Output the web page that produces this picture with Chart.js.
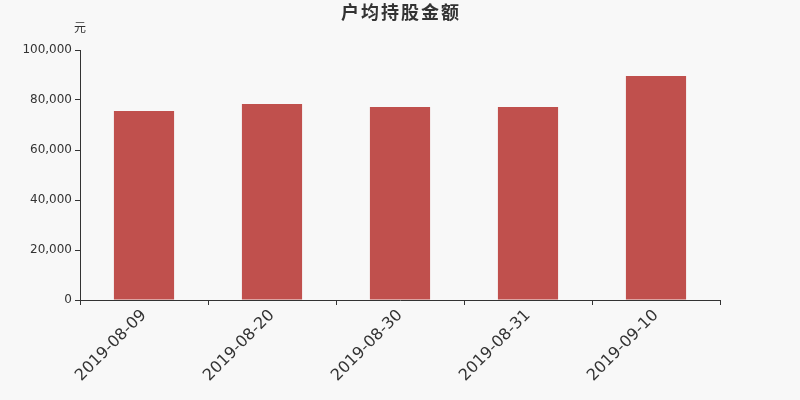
<!DOCTYPE html>
<html>
<head>
<meta charset="utf-8">
<script src="https://cdn.jsdelivr.net/npm/chart.js@4"></script>
<style>
  html, body { margin: 0; padding: 0; background: #f8f8f8; }
  #wrap { width: 800px; height: 400px; }
</style>
</head>
<body>
<div id="wrap"><canvas id="chart" width="800" height="400"></canvas></div>
<script>
const categories = ["2019-08-09", "2019-08-20", "2019-08-30", "2019-08-31", "2019-09-10"];
const values = [75600, 78400, 77200, 77200, 89600];
const chartTitle = "户均持股金额";
const unitLabel = "元";

const FONT = "'DejaVu Sans', 'Noto Sans CJK SC', sans-serif";

// title and unit label drawn in fixed spots, like the original
const textPlugin = {
  id: "fixedText",
  afterDraw(chart) {
    const ctx = chart.ctx;
    ctx.save();
    ctx.fillStyle = "#333";
    ctx.textAlign = "center";
    ctx.textBaseline = "middle";
    ctx.font = "bold 18px " + FONT;
    ctx.letterSpacing = "2px";
    ctx.fillText(chartTitle, 401, 14);
    ctx.letterSpacing = "0px";
    ctx.font = "12px " + FONT;
    ctx.fillText(unitLabel, 80, 29);
    ctx.restore();
  },
};

function initChart() {
  const ctx = document.getElementById("chart").getContext("2d");

  new Chart(ctx, {
    type: "bar",
    data: {
      labels: categories,
      datasets: [
        {
          data: values,
          backgroundColor: "#c0504d",
          categoryPercentage: 1,
          barPercentage: 0.47,
        },
      ],
    },
    options: {
      responsive: false,
      animation: false,
      layout: { padding: { top: 50, right: 80, left: 0, bottom: 0 } },
      scales: {
        x: {
          afterFit(scale) { scale.height = 100; },
          border: { color: "#333", width: 1 },
          grid: {
            drawOnChartArea: false,
            drawTicks: true,
            tickLength: 5,
            color: "#333",
            offset: true,
          },
          ticks: {
            color: "#333",
            font: { size: 16, family: FONT },
            minRotation: 45,
            maxRotation: 45,
            padding: 1,
          },
        },
        y: {
          min: 0,
          max: 100000,
          afterFit(scale) { scale.width = 80; },
          border: { color: "#333", width: 1 },
          grid: {
            drawOnChartArea: false,
            drawTicks: true,
            tickLength: 5,
            color: "#333",
          },
          ticks: {
            stepSize: 20000,
            color: "#333",
            font: { size: 12, family: FONT },
            padding: 3,
            callback(v) { return v.toLocaleString("en-US"); },
          },
        },
      },
      plugins: {
        legend: { display: false },
        title: { display: false },
        tooltip: { enabled: false },
      },
    },
    plugins: [textPlugin],
  });
}

document.addEventListener("DOMContentLoaded", initChart);
</script>
</body>
</html>
